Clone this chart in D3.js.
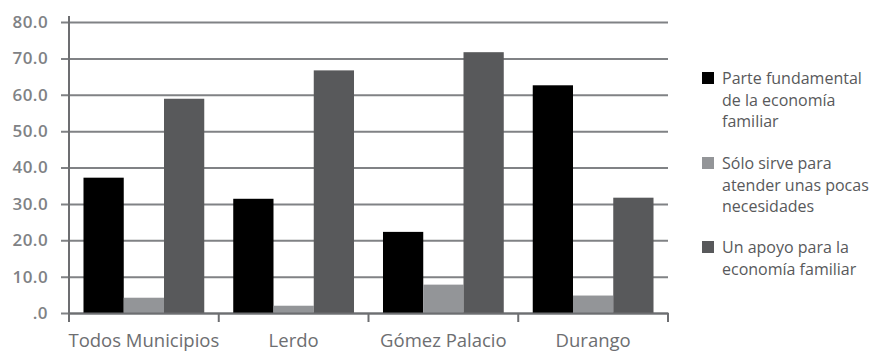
<!DOCTYPE html>
<meta charset="utf-8">
<head>
  <title>Valoración del ingreso por municipio</title>
</head>

<style>
body { margin: 0; background: white; }
text {
  font-family: "Open Sans", "Noto Sans", sans-serif;
}
.y-axis text { fill: #808285; font-size: 17px; font-weight: 600; letter-spacing: 0.4px; }
.x-axis text { fill: #6d6e71; font-size: 18.5px; }
.legend text { fill: #58595b; font-size: 16px; }
</style>

<body>
  <svg width="875" height="351"></svg>

  <script src="https://cdnjs.cloudflare.com/ajax/libs/d3/7.8.5/d3.min.js"></script>
  <script>
var municipios = ["Todos Municipios", "Lerdo", "Gómez Palacio", "Durango"];
var series = ["Parte fundamental de la economía familiar",
              "Sólo sirve para atender unas pocas necesidades",
              "Un apoyo para la economía familiar"];
var parteFundamental = [37.2, 31.4, 22.3, 62.6];
var soloSirve = [4.2, 2.0, 7.8, 4.8];
var unApoyo = [58.9, 66.7, 71.7, 31.7];
var yTicks = [0, 10, 20, 30, 40, 50, 60, 70, 80];
var legendLines = [
  ["Parte fundamental", "de la economía", "familiar"],
  ["Sólo sirve para", "atender unas pocas", "necesidades"],
  ["Un apoyo para la", "economía familiar"]
];
var colors = ["#000000", "#939598", "#58595b"];

var values = [parteFundamental, soloSirve, unApoyo];

var svg = d3.select('svg');
var mLeft = 69, mRight = 668, mTop = 22, mBottom = 313;

var x = d3.scaleBand()
  .domain(municipios)
  .range([mLeft, mRight]);

var xInner = d3.scaleBand()
  .domain(d3.range(series.length))
  .range([0, x.bandwidth()])
  .paddingOuter(0.36)
  .paddingInner(0);

var y = d3.scaleLinear()
  .domain([0, 80])
  .range([mBottom, mTop]);

// gridlines + y axis
var yAxis = svg.append('g')
  .attr('class', 'y-axis')
  .attr('transform', 'translate(' + mLeft + ',0)')
  .call(d3.axisLeft(y)
    .tickValues(yTicks)
    .tickSize(-(mRight - mLeft))
    .tickFormat(function(d) { return d === 0 ? '.0' : d3.format('.1f')(d); }));
yAxis.select('.domain').remove();
yAxis.selectAll('line')
  .attr('x1', -8)
  .attr('stroke', '#808285')
  .attr('stroke-width', 2);
yAxis.selectAll('text').attr('x', -21);

// bars
var groups = svg.append('g')
  .selectAll('g')
  .data(municipios)
  .enter()
  .append('g')
  .attr('transform', function(d) { return 'translate(' + x(d) + ',0)'; });

groups.selectAll('rect')
  .data(function(d, i) { return values.map(function(v, s) { return {s: s, v: v[i]}; }); })
  .enter()
  .append('rect')
  .attr('x', function(d) { return xInner(d.s); })
  .attr('width', xInner.bandwidth())
  .attr('y', function(d) { return y(d.v); })
  .attr('height', function(d) { return y(0) - y(d.v); })
  .attr('fill', function(d) { return colors[d.s]; });

// y axis line
svg.append('line')
  .attr('x1', mLeft).attr('x2', mLeft)
  .attr('y1', mTop - 6).attr('y2', mBottom)
  .attr('stroke', '#6d6e71')
  .attr('stroke-width', 2);

// x axis
var xAxis = svg.append('g')
  .attr('class', 'x-axis')
  .attr('transform', 'translate(0,' + mBottom + ')')
  .call(d3.axisBottom(x).tickSize(0).tickPadding(21));
xAxis.select('.domain')
  .attr('stroke', '#6d6e71')
  .attr('stroke-width', 2);

svg.append('g')
  .selectAll('line')
  .data(municipios.concat(['end']))
  .enter()
  .append('line')
  .attr('x1', function(d, i) { return i < municipios.length ? x(d) : mRight; })
  .attr('x2', function(d, i) { return i < municipios.length ? x(d) : mRight; })
  .attr('y1', mBottom)
  .attr('y2', mBottom + 9)
  .attr('stroke', '#6d6e71')
  .attr('stroke-width', 2);

// legend
var legendBase = [84, 169, 253];
var legend = svg.append('g')
  .attr('class', 'legend')
  .selectAll('g')
  .data(series)
  .enter()
  .append('g')
  .attr('transform', function(d, i) { return 'translate(702,' + legendBase[i] + ')'; });

legend.append('rect')
  .attr('y', -12)
  .attr('width', 12)
  .attr('height', 12)
  .attr('fill', function(d, i) { return colors[i]; });

legend.append('text')
  .selectAll('tspan')
  .data(function(d, i) { return legendLines[i]; })
  .enter()
  .append('tspan')
  .attr('x', 20)
  .attr('dy', function(d, i) { return i === 0 ? 0 : 21.5; })
  .text(function(d) { return d; });
  </script>
</body>
</html>
